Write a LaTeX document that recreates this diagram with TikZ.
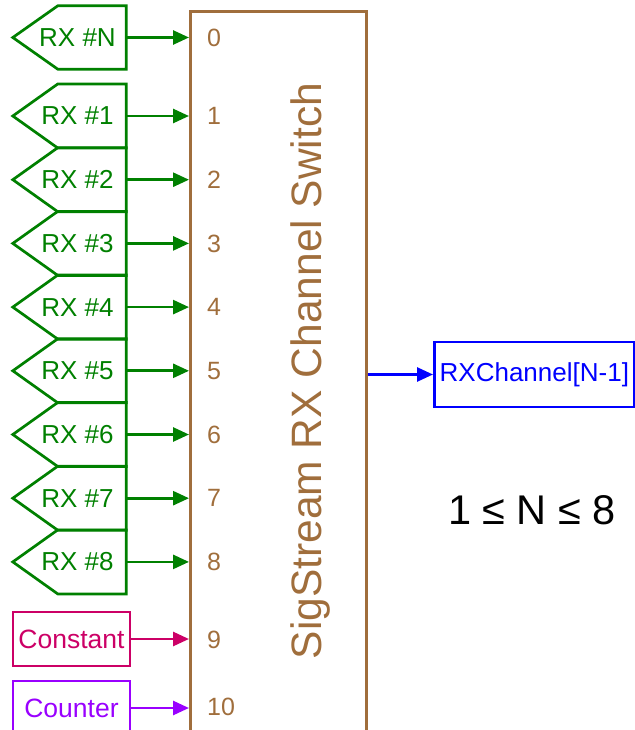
\documentclass[tikz,border=0pt]{standalone}
\usepackage{fontspec}
\setmainfont{Liberation Sans}
\usetikzlibrary{arrows.meta,calc}
\definecolor{swbrown}{RGB}{160,110,60}
\definecolor{rxgreen}{RGB}{0,128,0}
\definecolor{constred}{RGB}{204,0,102}
\definecolor{cntpurple}{RGB}{153,0,255}
\definecolor{outblue}{RGB}{0,0,255}
\tikzset{
  conn/.style={line width=2.7pt,-{Triangle[length=16pt,width=14pt]}},
  rxbox/.style={draw=none,minimum width=113pt,minimum height=63.7pt,inner sep=0pt,text=rxgreen,font=\fontsize{26}{26}\selectfont},
  pent/.style={draw=rxgreen,line width=2.7pt,line join=miter},
  srcbox/.style={draw,line width=2.7pt,minimum width=117pt,minimum height=54pt,inner sep=0pt,font=\fontsize{26.5}{26.5}\selectfont},
  portlbl/.style={anchor=west,text=swbrown,font=\fontsize{25}{25}\selectfont,inner sep=0pt}
}
\begin{document}
\begin{tikzpicture}[x=1pt,y=-1pt]
\useasboundingbox (0,0) rectangle (634,730);
% switch block
\node[draw=swbrown,line width=2.7pt,minimum width=176pt,minimum height=740pt,inner sep=0pt,anchor=north west] (sw) at (189,10) {};
\node[rotate=90,anchor=base,text=swbrown,font=\fontsize{42.5}{42.5}\selectfont,inner sep=0pt] (title) at (321,371) {SigStream RX Channel Switch};
% RX #N
\node[rxbox,minimum height=63pt] (rxN) at (69.5,37.5) {\hspace*{16pt}RX \#N};
\draw[pent] (rxN.north east) -- ($(rxN.north west)+(45,0)$) -- (rxN.west) -- ($(rxN.south west)+(45,0)$) -- (rxN.south east) -- cycle;
\draw[conn,draw=rxgreen,fill=rxgreen] (rxN.east) -- (rxN.east -| sw.west);
\node[portlbl] (p0) at (207,37.5) {0};
% RX #1..#8
\foreach \i in {1,...,8}{
  \pgfmathsetmacro{\yc}{116+(\i-1)*63.7}
  \node[rxbox] (rx\i) at (69.5,\yc) {\hspace*{16pt}RX \#\i};
  \draw[pent] (rx\i.north east) -- ($(rx\i.north west)+(45,0)$) -- (rx\i.west) -- ($(rx\i.south west)+(45,0)$) -- (rx\i.south east) -- cycle;
  \draw[conn,draw=rxgreen,fill=rxgreen] (rx\i.east) -- (rx\i.east -| sw.west);
  \node[portlbl] (p\i) at (207,\yc) {\i};
}
% Constant and Counter
\node[srcbox,draw=constred,text=constred] (const) at (71.5,639) {Constant};
\draw[conn,draw=constred,fill=constred] (const.east) -- (const.east -| sw.west);
\node[portlbl] (p9) at (207,640) {9};
\node[srcbox,draw=cntpurple,text=cntpurple] (cnt) at (71.5,708) {Counter};
\draw[conn,draw=cntpurple,fill=cntpurple] (cnt.east) -- (cnt.east -| sw.west);
\node[portlbl] (p10) at (207,707) {10};
% output
\node[draw=outblue,line width=2.7pt,text=outblue,minimum width=200pt,minimum height=65pt,inner sep=0pt,anchor=west,font=\fontsize{26}{26}\selectfont] (out) at (433,374.5) {RXChannel[N-1]};
\draw[conn,draw=outblue,fill=outblue] (out.west -| sw.east) -- (out.west);
% range
\node[anchor=base,font=\fontsize{41.5}{41.5}\selectfont,inner sep=0pt] (range) at (532,524) {1 ≤ N ≤ 8};
\end{tikzpicture}
\end{document}
